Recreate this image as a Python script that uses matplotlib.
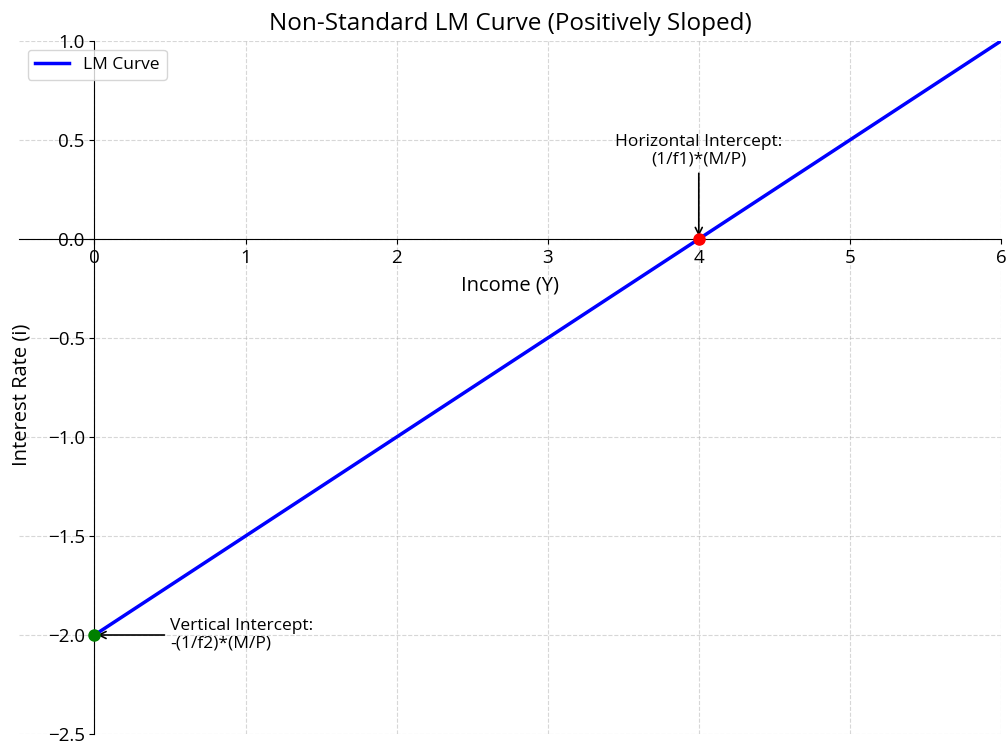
import numpy as np
import matplotlib.pyplot as plt

plt.rcParams['font.family'] = ['Open Sans', 'DejaVu Sans']

# LM curve data
income = [0, 1, 2, 3, 4, 5, 6]
interest = [-2.0, -1.5, -1.0, -0.5, 0.0, 0.5, 1.0]
h_intercept = (4, 0.0)
v_intercept = (0, -2.0)

fig = plt.figure(figsize=(10.08, 7.43), dpi=100)
ax = fig.add_axes([0.0188, 0.0121, 0.9742, 0.9327])

ax.plot(income, interest, color='blue', lw=2.5, label='LM Curve')
ax.plot(*h_intercept, 'o', color='red', ms=8, zorder=5)
ax.plot(*v_intercept, 'o', color='green', ms=8, zorder=5)

ax.annotate('Horizontal Intercept:\n(1/f1)*(M/P)', xy=h_intercept, xytext=(4, 0.36),
            ha='center', va='bottom', fontsize=12.5, linespacing=1.15,
            arrowprops=dict(arrowstyle='->', color='black', lw=1.2))
ax.annotate('Vertical Intercept:\n-(1/f2)*(M/P)', xy=v_intercept, xytext=(0.5, -2.0),
            ha='left', va='center', fontsize=12.5, linespacing=1.15,
            arrowprops=dict(arrowstyle='->', color='black', lw=1.2))

ax.set_xlim(-0.5, 6)
ax.set_ylim(-2.5, 1.0)
ax.spines['left'].set_position('zero')
ax.spines['bottom'].set_position('zero')
ax.spines['top'].set_visible(False)
ax.spines['right'].set_visible(False)
ax.tick_params(labelsize=13.5)

ax.set_title('Non-Standard LM Curve (Positively Sloped)', fontsize=17.5, pad=8)
ax.set_xlabel('Income (Y)', fontsize=14.5, labelpad=6)
ax.set_ylabel('Interest Rate (i)', fontsize=14.5)
ax.yaxis.set_label_coords(0.013, 0.49)
ax.grid(True, linestyle='--', alpha=0.5)
ax.legend(loc='upper left', fontsize=12.5)

fig.savefig('out.png', dpi=100)
